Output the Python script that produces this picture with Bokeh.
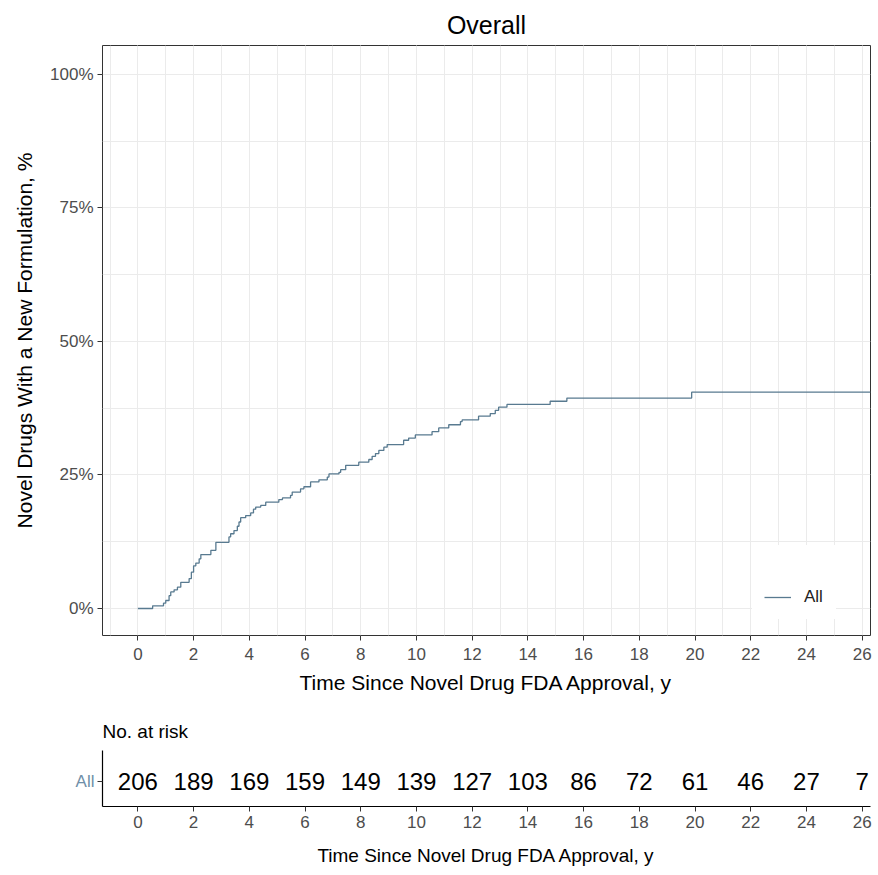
from bokeh.plotting import figure
from bokeh.models import Range1d, FixedTicker, Legend, LegendItem, ColumnDataSource, PrintfTickFormatter
from bokeh.layouts import column
from bokeh.core.properties import value
from bokeh.embed import file_html
from bokeh.resources import INLINE

# ---- data ----
step_times = [0, 0.53, 0.92, 1.00, 1.12, 1.18, 1.30, 1.42, 1.54, 1.84, 1.92, 2.00, 2.08, 2.20, 2.26,
              2.62, 2.80, 3.27, 3.33, 3.45, 3.57, 3.63, 3.69, 3.87, 4.05, 4.15, 4.23, 4.41, 4.59,
              5.06, 5.19, 5.48, 5.54, 5.84, 5.96, 6.20, 6.50, 6.80, 6.86, 7.22, 7.28, 7.46, 7.93,
              8.29, 8.41, 8.53, 8.65, 8.83, 8.95, 9.54, 9.72, 9.96, 10.56, 10.80, 11.16, 11.58,
              11.64, 12.23, 12.65, 12.83, 12.95, 13.25, 14.80, 15.40, 19.88, 26.3]
cum_pct = [0, 0.5, 1.0, 1.5, 2.4, 3.1, 3.5, 4.0, 4.9, 5.6, 6.8, 8.0, 8.5, 9.3, 10.1,
           10.9, 12.4, 13.4, 14.0, 14.6, 15.4, 16.2, 17.0, 17.4, 17.9, 18.6, 19.0, 19.3, 19.9,
           20.4, 20.7, 21.2, 21.8, 22.4, 22.8, 23.7, 24.1, 24.6, 25.2, 25.5, 26.0, 26.8, 27.4,
           27.9, 28.5, 29.0, 29.6, 30.2, 30.7, 31.5, 31.9, 32.5, 33.1, 33.8, 34.4, 35.0,
           35.3, 36.0, 36.5, 37.1, 37.7, 38.2, 38.8, 39.4, 40.5, 40.5]

x_ticks = list(range(0, 27, 2))
x_minor = list(range(-1, 27))
y_ticks = [0, 25, 50, 75, 100]
y_minor = [12.5, 37.5, 62.5, 87.5]

risk_times = [0, 2, 4, 6, 8, 10, 12, 14, 16, 18, 20, 22, 24, 26]
risk_counts = [206, 189, 169, 159, 149, 139, 127, 103, 86, 72, 61, 46, 27, 7]
group_name = "All"

FONT = "Liberation Sans"
LINE_COLOR = "#587A90"
GRID = "#EBEBEB"
TICK_TXT = "#4D4D4D"
DARK = "#333333"

# ---- main survival figure ----
p = figure(width=872, height=700, x_range=Range1d(-1.27, 26.3), y_range=Range1d(-5.05, 105.4),
           output_backend="svg", toolbar_location=None,
           min_border_left=102, min_border_right=2, min_border_top=45, min_border_bottom=65)
p.title.text = "Overall"
p.title.align = "center"
p.title.text_font = FONT
p.title.text_font_size = "25px"
p.title.text_font_style = "normal"
p.title.text_color = "black"
p.title.standoff = 13

src = ColumnDataSource(dict(t=step_times, s=cum_pct))
r = p.step("t", "s", source=src, mode="after", line_color=LINE_COLOR, line_width=1.3)

p.outline_line_color = DARK
p.outline_line_width = 1
p.background_fill_color = "white"
p.border_fill_color = "white"

p.xaxis.ticker = FixedTicker(ticks=x_ticks, minor_ticks=x_minor)
p.yaxis.ticker = FixedTicker(ticks=y_ticks, minor_ticks=y_minor)
p.yaxis.formatter = PrintfTickFormatter(format="%d%%")
for ax in (p.xaxis, p.yaxis):
    ax.axis_line_color = None
    ax.major_tick_in = 0
    ax.major_tick_out = 5
    ax.major_tick_line_color = DARK
    ax.minor_tick_line_color = None
    ax.major_label_text_font = FONT
    ax.major_label_text_font_size = "17px"
    ax.major_label_text_color = TICK_TXT
    ax.axis_label_text_font = FONT
    ax.axis_label_text_font_size = "21px"
    ax.axis_label_text_font_style = "normal"
    ax.axis_label_text_color = "black"
p.xaxis.axis_label = "Time Since Novel Drug FDA Approval, y"
p.yaxis.axis_label = "Novel Drugs With a New Formulation, %"
p.xaxis.major_label_standoff = 7
p.yaxis.major_label_standoff = 4
p.xaxis.axis_label_standoff = 8
p.yaxis.axis_label_standoff = 11

for g in (p.xgrid, p.ygrid):
    g.grid_line_color = GRID
    g.grid_line_width = 1
    g.minor_grid_line_color = GRID
    g.minor_grid_line_width = 1

legend = Legend(items=[LegendItem(label=group_name, renderers=[r])], location=(650, 16),
                title=" ", title_text_font_size="22px", title_standoff=4,
                padding=12, spacing=0, margin=0, glyph_width=27, glyph_height=20,
                label_standoff=13, label_text_font=FONT, label_text_font_size="17px",
                label_text_color="#222222", background_fill_color="white", background_fill_alpha=1,
                border_line_alpha=0)
p.add_layout(legend)

# ---- risk table figure ----
p2 = figure(width=872, height=170, x_range=p.x_range, y_range=Range1d(0, 1),
            output_backend="svg", toolbar_location=None,
            min_border_left=102, min_border_right=2, min_border_top=50, min_border_bottom=64)
p2.title.text = "No. at risk"
p2.title.align = "left"
p2.title.text_font = FONT
p2.title.text_font_size = "19px"
p2.title.text_font_style = "normal"
p2.title.text_color = "black"
p2.title.standoff = 17
p2.outline_line_color = None
p2.xgrid.grid_line_color = None
p2.ygrid.grid_line_color = None

row_y = 0.45
tsrc = ColumnDataSource(dict(t=risk_times, y=[row_y] * len(risk_times), n=[str(c) for c in risk_counts]))
p2.text("t", "y", text="n", source=tsrc, text_align="center", text_baseline="middle",
        text_font=value(FONT), text_font_size="24px", text_color="black")

p2.xaxis.ticker = FixedTicker(ticks=x_ticks)
p2.yaxis.ticker = FixedTicker(ticks=[row_y])
p2.yaxis.major_label_overrides = {row_y: group_name}
for ax in (p2.xaxis, p2.yaxis):
    ax.axis_line_color = "black"
    ax.axis_line_width = 1.2
    ax.major_tick_in = 0
    ax.major_tick_out = 5
    ax.major_tick_line_color = DARK
    ax.minor_tick_line_color = None
    ax.major_label_text_font = FONT
    ax.major_label_text_font_size = "17px"
    ax.axis_label_text_font = FONT
    ax.axis_label_text_font_style = "normal"
    ax.axis_label_text_color = "black"
p2.xaxis.major_label_text_color = TICK_TXT
p2.yaxis.major_label_text_color = "#6F8FA8"
p2.xaxis.axis_label = "Time Since Novel Drug FDA Approval, y"
p2.xaxis.axis_label_text_font_size = "19px"
p2.xaxis.major_label_standoff = 4
p2.xaxis.axis_label_standoff = 14
p2.yaxis.major_label_standoff = 3

layout = column(p, p2, spacing=0)
open("out.html", "w").write(file_html(layout, INLINE))
